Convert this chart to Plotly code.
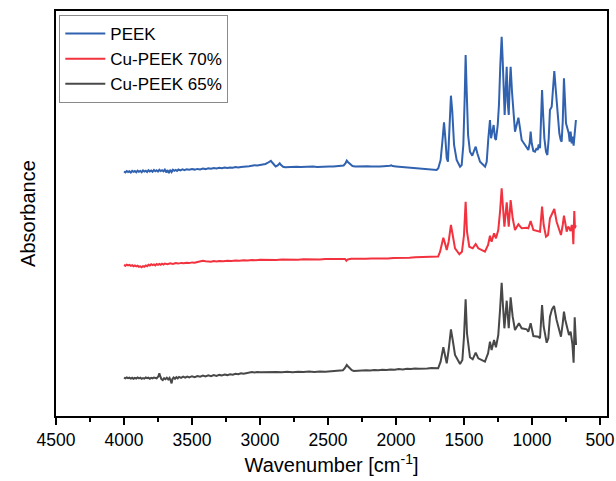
import plotly.graph_objects as go

# ---------------- data (wavenumber in cm-1, absorbance in offset a.u.) ----------------
peek_wn = [4000, 3990, 3980, 3970, 3960, 3950, 3940, 3930, 3920, 3910, 3900, 3890, 3880, 3870, 3860,
           3850, 3840, 3830, 3820, 3810, 3800, 3790, 3780, 3770, 3760, 3750, 3740, 3730, 3720, 3710,
           3700, 3690, 3680, 3670, 3660, 3650, 3640, 3630, 3620, 3610, 3600, 3585, 3570, 3555, 3540,
           3520, 3500, 3480, 3460, 3440, 3420, 3400, 3380, 3360, 3340, 3320, 3300, 3280, 3260, 3240,
           3220, 3200, 3180, 3160, 3140, 3120, 3100, 3080, 3060, 3040, 3020, 3000, 2980, 2960, 2945,
           2930, 2920, 2910, 2895, 2885, 2870, 2855, 2845, 2830, 2815, 2790, 2760, 2730, 2700, 2670,
           2640, 2610, 2580, 2550, 2520, 2490, 2460, 2430, 2400, 2385, 2372, 2362, 2354, 2346, 2336,
           2320, 2300, 2270, 2240, 2210, 2180, 2150, 2120, 2090, 2060, 2045, 2035, 2025, 2000, 1970,
           1940, 1910, 1880, 1850, 1823, 1790, 1750, 1720, 1701,
           1689, 1672, 1659, 1647, 1637, 1627, 1618, 1608, 1596, 1586, 1573, 1554, 1529, 1517, 1505,
           1495, 1488, 1480, 1470, 1456, 1439, 1424, 1414, 1402, 1382, 1345, 1333, 1321, 1309, 1301,
           1294, 1282, 1272, 1265, 1252, 1243, 1233, 1223, 1216, 1208, 1201, 1194, 1186, 1179, 1171,
           1164, 1157, 1147, 1137, 1125, 1113, 1100, 1088, 1076, 1051, 1039, 1027, 1017, 1010, 1002,
           990, 978, 966, 958, 951, 941, 934, 926, 919, 909, 897, 887, 877, 868, 855,
           845, 836, 826, 816, 806, 799, 789, 782, 774, 765, 757, 750, 740, 730, 723,
           716, 708, 701, 694, 689, 684, 677]
peek_abs = [2.445, 2.436, 2.450, 2.440, 2.447, 2.435, 2.452, 2.441, 2.449, 2.437, 2.454, 2.443, 2.451, 2.438, 2.456,
            2.445, 2.453, 2.440, 2.458, 2.446, 2.455, 2.442, 2.460, 2.447, 2.457, 2.444, 2.462, 2.449, 2.458, 2.447,
            2.464, 2.436, 2.459, 2.430, 2.461, 2.440, 2.463, 2.452, 2.460, 2.451, 2.465, 2.456, 2.466, 2.458, 2.468,
            2.462, 2.470, 2.464, 2.471, 2.466, 2.474, 2.469, 2.477, 2.472, 2.479, 2.475, 2.482, 2.477, 2.484, 2.480,
            2.486, 2.482, 2.489, 2.485, 2.491, 2.490, 2.495, 2.497, 2.503, 2.508, 2.506, 2.510, 2.514, 2.520, 2.530,
            2.545, 2.552, 2.535, 2.505, 2.495, 2.505, 2.527, 2.510, 2.492, 2.487, 2.490, 2.488, 2.492, 2.489, 2.493,
            2.490, 2.494, 2.491, 2.495, 2.492, 2.496, 2.494, 2.497, 2.499, 2.505, 2.525, 2.553, 2.540, 2.530, 2.515,
            2.500, 2.494, 2.496, 2.493, 2.497, 2.494, 2.498, 2.495, 2.498, 2.497, 2.502, 2.507, 2.499, 2.496, 2.492,
            2.490, 2.488, 2.484, 2.478, 2.470, 2.466, 2.463, 2.461, 2.460,
            2.477, 2.560, 2.743, 2.937, 2.777, 2.577, 2.543, 2.810, 3.203, 3.043, 2.710, 2.560, 2.493, 2.510, 2.710,
            3.177, 3.610, 3.243, 2.810, 2.643, 2.603, 2.660, 2.693, 2.627, 2.543, 2.493, 2.543, 2.777, 2.960, 2.777,
            2.843, 2.910, 2.777, 2.760, 2.910, 3.110, 3.510, 3.793, 3.577, 3.143, 3.010, 3.243, 3.493, 3.143, 3.010,
            3.310, 3.493, 3.243, 3.043, 2.843, 2.910, 2.983, 2.877, 2.760, 2.710, 2.683, 2.660, 2.727, 2.843, 2.727,
            2.650, 2.643, 2.677, 2.660, 2.717, 2.677, 2.910, 3.260, 3.043, 2.777, 2.643, 2.610, 2.777, 3.060, 3.093,
            3.243, 3.450, 3.277, 3.077, 2.910, 2.827, 2.760, 2.743, 2.943, 3.377, 3.143, 2.927, 2.877, 2.827, 2.743,
            2.843, 2.727, 2.793, 2.703, 2.777, 2.877, 2.960]

cu70_wn = [4000, 3990, 3980, 3970, 3960, 3950, 3940, 3930, 3920, 3910, 3900, 3890, 3880, 3870, 3860,
           3850, 3840, 3830, 3820, 3810, 3800, 3790, 3780, 3770, 3760, 3750, 3740, 3730, 3720, 3710,
           3700, 3680, 3660, 3640, 3620, 3600, 3580, 3560, 3540, 3520, 3500, 3480, 3460, 3440, 3420,
           3400, 3380, 3360, 3340, 3320, 3300, 3270, 3240, 3210, 3180, 3150, 3120, 3090, 3060, 3030,
           3000, 2960, 2920, 2880, 2840, 2800, 2760, 2720, 2680, 2640, 2600, 2560, 2520, 2480, 2440,
           2400, 2375, 2365, 2355, 2330, 2300, 2260, 2220, 2180, 2140, 2100, 2060, 2020, 1980, 1940,
           1900, 1860, 1820, 1780, 1740, 1700, 1690,
           1676, 1652, 1640, 1627, 1613, 1596, 1583, 1566, 1534, 1515, 1500, 1488, 1478, 1461, 1436,
           1414, 1395, 1346, 1323, 1309, 1297, 1279, 1265, 1248, 1235, 1223, 1213, 1203, 1186, 1171,
           1157, 1142, 1125, 1100, 1076, 1039, 1027, 1010, 990, 953, 941, 926, 914, 897, 882,
           868, 853, 836, 819, 799, 787, 774, 765, 755, 745, 735, 728, 716, 708, 701,
           696, 689, 684, 679]
cu70_abs = [1.510, 1.503, 1.514, 1.506, 1.511, 1.501, 1.509, 1.498, 1.505, 1.496, 1.503, 1.492, 1.496, 1.487, 1.499,
            1.493, 1.506, 1.498, 1.512, 1.505, 1.518, 1.509, 1.516, 1.506, 1.519, 1.511, 1.521, 1.512, 1.523, 1.515,
            1.524, 1.518, 1.527, 1.521, 1.529, 1.524, 1.531, 1.527, 1.533, 1.529, 1.536, 1.532, 1.540, 1.545, 1.553,
            1.548, 1.544, 1.543, 1.549, 1.546, 1.551, 1.548, 1.553, 1.550, 1.556, 1.553, 1.558, 1.555, 1.561, 1.557,
            1.562, 1.559, 1.563, 1.560, 1.565, 1.562, 1.566, 1.563, 1.567, 1.565, 1.568, 1.566, 1.570, 1.567, 1.571,
            1.569, 1.570, 1.553, 1.566, 1.572, 1.570, 1.574, 1.572, 1.576, 1.574, 1.578, 1.576, 1.581, 1.579, 1.584,
            1.582, 1.587, 1.590, 1.589, 1.592, 1.593, 1.595,
            1.643, 1.783, 1.727, 1.660, 1.743, 1.910, 1.810, 1.677, 1.617, 1.643, 1.810, 2.143, 1.843, 1.693, 1.677,
            1.720, 1.677, 1.643, 1.710, 1.803, 1.743, 1.827, 1.777, 1.860, 2.043, 2.277, 2.077, 1.893, 2.137, 1.893,
            2.160, 1.977, 1.860, 1.917, 1.877, 1.883, 1.877, 1.950, 1.860, 1.850, 1.843, 2.093, 1.910, 1.793, 1.810,
            1.977, 2.027, 2.070, 1.943, 1.843, 1.810, 1.910, 2.003, 1.927, 1.843, 1.893, 1.883, 1.850, 1.910, 1.860,
            1.717, 2.050, 1.877, 1.910]

cu65_wn = [4000, 3990, 3980, 3970, 3960, 3950, 3940, 3930, 3920, 3910, 3900, 3890, 3880, 3870, 3860,
           3850, 3840, 3830, 3820, 3810, 3800, 3790, 3780, 3770, 3760, 3748, 3740, 3733, 3725, 3715,
           3705, 3695, 3685, 3675, 3665, 3655, 3650, 3644, 3635, 3625, 3615, 3605, 3595, 3580, 3565,
           3550, 3535, 3520, 3500, 3480, 3460, 3440, 3420, 3400, 3380, 3360, 3340, 3320, 3300, 3280,
           3260, 3240, 3220, 3200, 3180, 3160, 3140, 3120, 3100, 3080, 3060, 3040, 3020, 3000, 2960,
           2920, 2880, 2840, 2800, 2760, 2720, 2680, 2640, 2600, 2560, 2520, 2480, 2440, 2410, 2390,
           2375, 2362, 2352, 2340, 2325, 2310, 2280, 2250, 2220, 2190, 2160, 2130, 2100, 2070, 2040,
           2010, 1980, 1950, 1920, 1890, 1860, 1830, 1800, 1770, 1740, 1710, 1690,
           1672, 1652, 1640, 1627, 1613, 1596, 1583, 1566, 1529, 1512, 1500, 1488, 1478, 1456, 1436,
           1414, 1395, 1346, 1323, 1309, 1297, 1279, 1265, 1248, 1235, 1223, 1213, 1203, 1186, 1171,
           1157, 1142, 1125, 1096, 1076, 1039, 1027, 1010, 990, 953, 941, 926, 914, 892, 880,
           868, 853, 838, 819, 799, 787, 774, 765, 755, 745, 728, 716, 703, 694, 686,
           676]
cu65_abs = [0.383, 0.376, 0.385, 0.378, 0.384, 0.374, 0.382, 0.373, 0.381, 0.375, 0.386, 0.377, 0.383, 0.372, 0.380,
            0.374, 0.385, 0.378, 0.384, 0.373, 0.381, 0.376, 0.385, 0.379, 0.377, 0.395, 0.427, 0.395, 0.370, 0.360,
            0.378, 0.368, 0.383, 0.366, 0.381, 0.345, 0.327, 0.370, 0.385, 0.372, 0.388, 0.377, 0.391, 0.382, 0.393,
            0.384, 0.395, 0.386, 0.398, 0.389, 0.400, 0.393, 0.404, 0.395, 0.406, 0.398, 0.409, 0.401, 0.411, 0.405,
            0.414, 0.409, 0.418, 0.413, 0.422, 0.418, 0.427, 0.423, 0.431, 0.435, 0.440, 0.436, 0.441, 0.437, 0.440,
            0.436, 0.441, 0.437, 0.442, 0.438, 0.443, 0.439, 0.444, 0.440, 0.445, 0.442, 0.447, 0.445, 0.450, 0.458,
            0.480, 0.510, 0.495, 0.475, 0.458, 0.451, 0.454, 0.451, 0.457, 0.454, 0.460, 0.457, 0.463, 0.460, 0.466,
            0.463, 0.469, 0.466, 0.472, 0.469, 0.475, 0.473, 0.478, 0.476, 0.480, 0.478, 0.477,
            0.543, 0.687, 0.610, 0.527, 0.660, 0.867, 0.760, 0.610, 0.520, 0.560, 0.793, 1.167, 0.827, 0.587, 0.567,
            0.633, 0.577, 0.543, 0.627, 0.743, 0.660, 0.760, 0.687, 0.810, 1.060, 1.333, 1.093, 0.877, 1.153, 0.877,
            1.187, 0.993, 0.860, 0.927, 0.877, 0.867, 0.843, 0.927, 0.800, 0.793, 0.777, 1.110, 0.893, 0.733, 0.777,
            0.993, 1.067, 1.100, 0.960, 0.843, 0.793, 0.927, 1.043, 0.960, 0.910, 0.810, 0.843, 0.720, 0.533, 0.987,
            0.710]

series_names = ["PEEK", "Cu-PEEK 70%", "Cu-PEEK 65%"]
series_colors = ["#3062b0", "#f2323e", "#484848"]

x_major_ticks = [4500, 4000, 3500, 3000, 2500, 2000, 1500, 1000, 500]

# ---------------- figure ----------------
fig = go.Figure()
for name, color, xs, ys in zip(series_names, series_colors,
                               [peek_wn, cu70_wn, cu65_wn],
                               [peek_abs, cu70_abs, cu65_abs]):
    fig.add_trace(go.Scatter(x=xs, y=ys, mode="lines", name=name,
                             line=dict(color=color, width=2)))

FONT = "Liberation Sans, Arial, sans-serif"
fig.update_layout(
    width=616, height=481,
    margin=dict(l=56, r=9, t=11, b=65),
    paper_bgcolor="white", plot_bgcolor="white",
    font=dict(family=FONT, color="black", size=17),
    showlegend=True,
    legend=dict(x=0.006, y=0.99, xanchor="left", yanchor="top",
                bgcolor="white", bordercolor="#8a8a8a", borderwidth=1,
                font=dict(family=FONT, size=17, color="black"),
                tracegroupgap=0, itemwidth=40),
)
fig.update_xaxes(
    range=[4500, 448.5], tickmode="array", tickvals=x_major_ticks,
    automargin=False,
    ticks="outside", ticklen=7, tickwidth=1.5, tickcolor="black",
    showline=True, linecolor="black", linewidth=2, mirror=True,
    showgrid=False, zeroline=False,
    tickfont=dict(family=FONT, size=17.5, color="black"),
    minor=dict(tickmode="linear", tick0=250, dtick=500, ticks="outside", ticklen=4,
               tickwidth=1.5, tickcolor="black", showgrid=False),
    title=dict(text="Wavenumber [cm<sup>-1</sup>]", font=dict(family=FONT, size=20, color="black"),
               standoff=9),
)
fig.update_yaxes(
    range=[0, 4.05], showticklabels=False, ticks="",
    automargin=False,
    showline=True, linecolor="black", linewidth=2, mirror=True,
    showgrid=False, zeroline=False,
    title=dict(text="Absorbance", font=dict(family=FONT, size=20, color="black"), standoff=13),
)

fig.write_html("out.html")
